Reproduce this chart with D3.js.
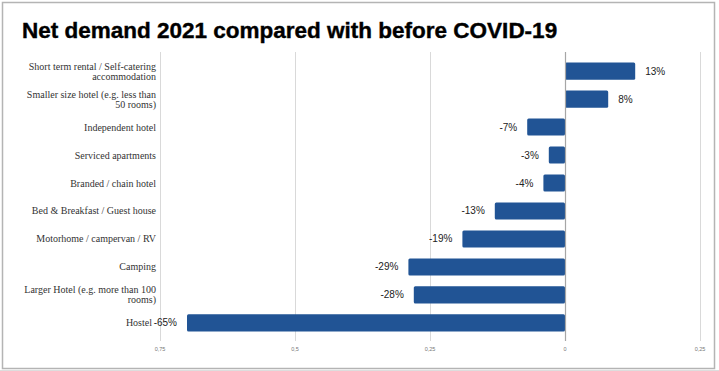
<!DOCTYPE html>
<html>
<head>
    <meta charset="utf-8">
    <title>Net demand 2021</title>
    <script src="https://d3js.org/d3.v7.min.js"></script>
    <style>
        body { margin: 0; background: #fff; }
    </style>
</head>
<body>
    <script>
        var categories = [
            ["Short term rental / Self-catering", "accommodation"],
            ["Smaller size hotel (e.g. less than", "50 rooms)"],
            ["Independent hotel"],
            ["Serviced apartments"],
            ["Branded / chain hotel"],
            ["Bed & Breakfast / Guest house"],
            ["Motorhome / campervan / RV"],
            ["Camping"],
            ["Larger Hotel (e.g. more than 100", "rooms)"],
            ["Hostel"]
        ];
        var values = [0.13, 0.08, -0.07, -0.03, -0.04, -0.13, -0.19, -0.29, -0.28, -0.70];
        var valueLabels = ["13%", "8%", "-7%", "-3%", "-4%", "-13%", "-19%", "-29%", "-28%", "-65%"];
        var tickValues = [-0.75, -0.5, -0.25, 0, 0.25];
        var tickLabels = ["0,75", "0,5", "0,25", "0", "0,25"];

        var width = 719;
        var height = 371;

        var svg = d3.select("body").append("svg")
            .attr("width", width)
            .attr("height", height);

        // faint spreadsheet cell lines outside the frame
        svg.append("line").attr("x1", 0).attr("x2", width).attr("y1", 370.5).attr("y2", 370.5)
            .style("stroke", "#ddd");

        svg.append("rect")
            .attr("x", 2.5).attr("y", 2.5)
            .attr("width", 712).attr("height", 366)
            .attr("fill", "#fff")
            .style("stroke", "#b4b4b4")
            .style("stroke-width", 1.5);

        svg.append("text")
            .attr("x", 22).attr("y", 38)
            .style("font-family", "Liberation Sans, Arial, sans-serif")
            .style("font-weight", "bold")
            .style("font-size", "22.5px")
            .style("stroke", "#000")
            .style("stroke-width", 0.4)
            .style("fill", "#000")
            .text("Net demand 2021 compared with before COVID-19");

        var x = d3.scaleLinear()
            .domain([-0.75, 0.25])
            .range([160, 700]);

        var y = d3.scaleBand()
            .domain(d3.range(categories.length))
            .range([57, 337])
            .paddingInner(0.39)
            .paddingOuter(0.2);

        // gridlines
        svg.selectAll("line.grid")
            .data(tickValues.filter(function(d) { return d !== 0; }))
            .enter()
            .append("line")
            .attr("class", "grid")
            .attr("x1", function(d) { return Math.round(x(d)) + 0.5; })
            .attr("x2", function(d) { return Math.round(x(d)) + 0.5; })
            .attr("y1", 52).attr("y2", 341)
            .style("stroke", "#d9d9d9")
            .style("stroke-width", 1);

        svg.selectAll("text.tick")
            .data(tickValues)
            .enter()
            .append("text")
            .attr("class", "tick")
            .attr("x", function(d) { return x(d); })
            .attr("y", 351)
            .attr("text-anchor", "middle")
            .style("font-family", "Liberation Sans, Arial, sans-serif")
            .style("font-size", "5.5px")
            .style("fill", "#777")
            .text(function(d, i) { return tickLabels[i]; });

        svg.selectAll("rect.bar")
            .data(values)
            .enter()
            .append("rect")
            .attr("class", "bar")
            .attr("x", function(d) { return x(Math.min(0, d)); })
            .attr("y", function(d, i) { return y(i); })
            .attr("width", function(d) { return Math.abs(x(d) - x(0)); })
            .attr("height", y.bandwidth())
            .attr("rx", 1.5)
            .attr("fill", "#215495");

        // zero line
        svg.append("line")
            .attr("x1", Math.round(x(0)) + 0.5).attr("x2", Math.round(x(0)) + 0.5)
            .attr("y1", 52).attr("y2", 341)
            .style("stroke", "#a6a6a6")
            .style("stroke-width", 1.2);

        svg.selectAll("text.value")
            .data(values)
            .enter()
            .append("text")
            .attr("class", "value")
            .attr("x", function(d) { return d >= 0 ? x(d) + 10 : x(d) - 10; })
            .attr("y", function(d, i) { return y(i) + y.bandwidth() / 2 + 3.5; })
            .attr("text-anchor", function(d) { return d >= 0 ? "start" : "end"; })
            .style("font-family", "Liberation Sans, Arial, sans-serif")
            .style("font-size", "10px")
            .style("fill", "#222")
            .text(function(d, i) { return valueLabels[i]; });

        var cat = svg.selectAll("text.cat")
            .data(categories)
            .enter()
            .append("text")
            .attr("class", "cat")
            .attr("text-anchor", "end")
            .style("font-family", "Liberation Serif, Georgia, serif")
            .style("font-size", "10px")
            .style("fill", "#333");

        cat.each(function(lines, i) {
            var cy = y(i) + y.bandwidth() / 2;
            var start = cy + 3.5 - (lines.length - 1) * 5;
            d3.select(this).selectAll("tspan")
                .data(lines)
                .enter()
                .append("tspan")
                .attr("x", i === categories.length - 1 ? 152 : 156)
                .attr("y", function(d, j) { return start + j * 10; })
                .text(function(d) { return d; });
        });
    </script>
</body>
</html>
